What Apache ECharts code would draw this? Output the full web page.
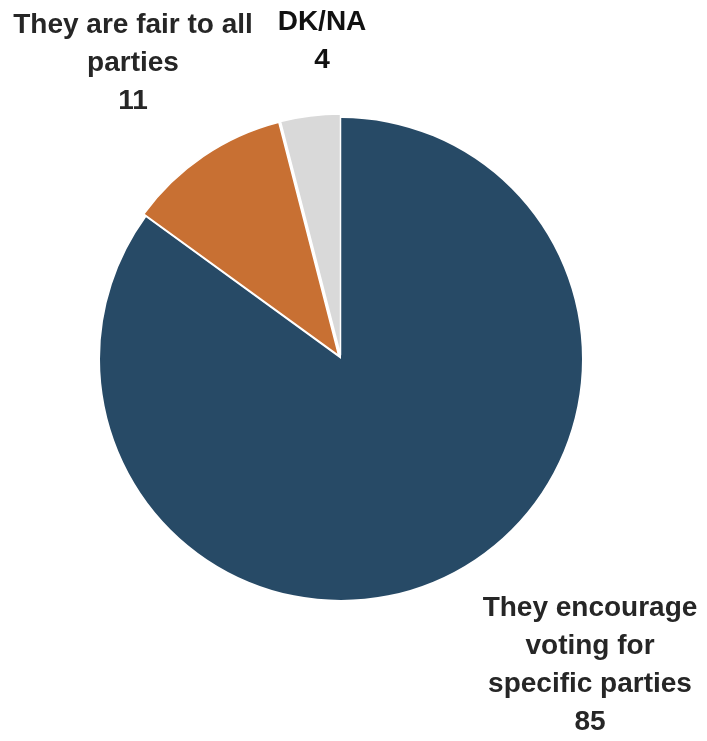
<!DOCTYPE html>
<html><head><meta charset="utf-8">
<script src="https://cdn.jsdelivr.net/npm/echarts@6/dist/echarts.min.js"></script>
<style>html,body{margin:0;padding:0;background:#fff}#c{width:707px;height:741px}</style>
</head><body><div id="c"></div>
<script>
const categories = ["They encourage\nvoting for\nspecific parties", "They are fair to all\nparties", "DK/NA"];
const values = [85, 11, 4];
const colors = ["#274a66", "#c87033", "#d9d9d9"];
const labelColors = ["#262626", "#262626", "#111111"];
const labelPos = [[590, 665], [133, 63], [322, 41]];

const center = [341, 359];
const radius = 241;

const chart = echarts.init(document.getElementById('c'));
chart.setOption({
  animation: false,
  series: [{
    type: 'pie',
    center: center,
    radius: radius,
    startAngle: 90,
    clockwise: true,
    silent: true,
    selectedMode: 'multiple',
    selectedOffset: 4,
    data: categories.map((c, i) => ({
      name: c, value: values[i], selected: i > 0,
      itemStyle: {color: colors[i], borderColor: '#fff', borderWidth: i > 0 ? 1.5 : 0}
    })),
    label: {show: false},
    labelLine: {show: false},
    emphasis: {disabled: true}
  }, {
    type: 'pie',
    center: center,
    radius: radius,
    startAngle: 90,
    clockwise: true,
    silent: true,
    z: 3,
    data: categories.map((c, i) => ({
      name: c, value: values[i],
      itemStyle: {color: 'rgba(0,0,0,0)', borderWidth: 0},
      label: {color: labelColors[i]}
    })),
    label: {
      show: true,
      position: 'inside',
      formatter: p => p.name + '\n' + p.value,
      fontFamily: '"Liberation Sans", Arial, sans-serif',
      fontWeight: 'bold',
      fontSize: 28,
      lineHeight: 38,
      overflow: 'none',
      align: 'center'
    },
    labelLine: {show: false},
    labelLayout: params => ({
      x: labelPos[params.dataIndex][0],
      y: labelPos[params.dataIndex][1],
      align: 'center',
      verticalAlign: 'middle',
      hideOverlap: false
    }),
    emphasis: {disabled: true}
  }]
});
</script></body></html>
